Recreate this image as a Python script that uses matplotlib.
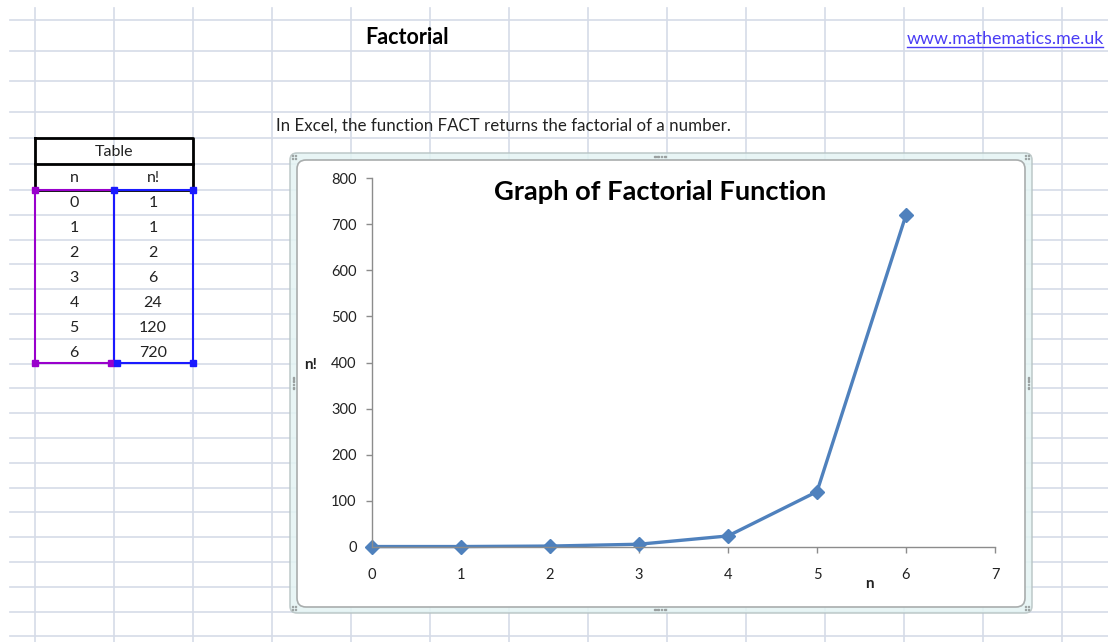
import numpy as np
import matplotlib
matplotlib.use("Agg")
import matplotlib.pyplot as plt
from matplotlib.patches import FancyBboxPatch, Rectangle

plt.rcParams['font.family'] = ['Lato', 'DejaVu Sans']

# data
n_vals = [0, 1, 2, 3, 4, 5, 6]
fact_vals = [1, 1, 2, 6, 24, 120, 720]
y_ticks = [0, 100, 200, 300, 400, 500, 600, 700, 800]
x_ticks = [0, 1, 2, 3, 4, 5, 6, 7]

W, H = 1108, 642
fig = plt.figure(figsize=(W / 100, H / 100), dpi=100)

# sheet background in pixel coords
bg = fig.add_axes([0, 0, 1, 1])
bg.set_xlim(0, W)
bg.set_ylim(H, 0)
bg.axis('off')

grid_c = '#d5dbe8'
col_x = [35 + 79 * k for k in range(14)]
row_y = [19.5, 50.5, 81, 112, 137.5, 164] + [190 + 24.8 * k for k in range(19)]
for x in col_x:
    bg.plot([x, x], [8, H], color=grid_c, lw=1.2, zorder=1)
for y in row_y:
    bg.plot([10, W], [y, y], color=grid_c, lw=1.2, zorder=1)

# sheet text
txt_c = '#222222'
bg.text(407, 37, 'Factorial', ha='center', va='center', fontsize=15.5,
        fontweight='bold', color='black', zorder=3)
bg.text(1005, 39, 'www.mathematics.me.uk', ha='center', va='center',
        fontsize=12.8, color='#4a3cf5', zorder=3)
bg.plot([907, 1103], [47, 47], color='#4a3cf5', lw=1, zorder=3)
bg.text(276, 126, 'In Excel, the function FACT returns the factorial of a number.',
        ha='left', va='center', fontsize=12.2, color=txt_c, zorder=3)

# table
bg.plot([35, 193, 193, 35, 35], [137.5, 137.5, 190, 190, 137.5], color='black', lw=2, zorder=3)
bg.plot([35, 193], [164, 164], color='black', lw=2, zorder=3)
tfs = 11.5
bg.text(114, 152, 'Table', ha='center', va='center', fontsize=tfs, color=txt_c, zorder=3)
bg.text(74, 178, 'n', ha='center', va='center', fontsize=tfs, color=txt_c, zorder=3)
bg.text(153, 178, 'n!', ha='center', va='center', fontsize=tfs, color=txt_c, zorder=3)
bg.plot([35, 114, 114, 35, 35], [190, 190, 363, 363, 190], color='#9900cc', lw=1.5, zorder=4)
bg.plot([114, 193, 193, 114, 114], [190, 190, 363, 363, 190], color='#1a1aff', lw=1.5, zorder=4)
for x, c in [(35, '#9900cc'), (114, '#1a1aff'), (193, '#1a1aff')]:
    bg.add_patch(Rectangle((x - 3, 187), 6, 6, color=c, zorder=5))
for x, c in [(35, '#9900cc'), (111, '#9900cc'), (117, '#1a1aff'), (193, '#1a1aff')]:
    bg.add_patch(Rectangle((x - 3, 360), 6, 6, color=c, zorder=5))
for i, (nv, fv) in enumerate(zip(n_vals, fact_vals)):
    y = 203 + 25 * i
    bg.text(74, y, str(nv), ha='center', va='center', fontsize=tfs, color=txt_c, zorder=3)
    bg.text(153, y, str(fv), ha='center', va='center', fontsize=tfs, color=txt_c, zorder=3)

# chart frame
outer = FancyBboxPatch((290, 153), 742, 460, boxstyle='round,pad=0,rounding_size=7',
                       fc='#e4f4f4', ec='#b8c4c4', lw=1.2, alpha=0.85, zorder=2)
inner = FancyBboxPatch((297, 160), 728, 447, boxstyle='round,pad=0,rounding_size=9',
                       fc='white', ec='#a9adad', lw=1.2, zorder=2.5)
bg.add_patch(outer)
bg.add_patch(inner)
# sizing handles
hc = '#9aa0a0'
for x0, y0, horiz in [(660, 156.5, True), (660, 609.5, True), (293.5, 383, False), (1028.5, 383, False)]:
    for k in range(4):
        if horiz:
            bg.add_patch(Rectangle((x0 - 6 + 3.4 * k, y0 - 0.8), 1.6, 1.6, color=hc, zorder=3))
        else:
            bg.add_patch(Rectangle((x0 - 0.8, y0 - 6 + 3.4 * k), 1.6, 1.6, color=hc, zorder=3))
for cx, cy in [(293, 156), (1026, 156), (293, 607), (1026, 607)]:
    for dx, dy in [(0, 0), (3, 0), (0, 3), (3, 3)]:
        bg.add_patch(Rectangle((cx + dx - 1.5, cy + dy - 1.5), 1.4, 1.4, color=hc, zorder=3))

# chart
ax = fig.add_axes([372 / W, 1 - 547 / H, (995 - 372) / W, (547 - 178) / H])
ax.patch.set_visible(False)
ax.set_zorder(5)
ax.plot(n_vals, fact_vals, color='#4f81bd', lw=2.4, marker='D', markersize=7,
        clip_on=False)
ax.set_xlim(0, 7)
ax.set_ylim(0, 800)
ax.set_xticks(x_ticks)
ax.set_yticks(y_ticks)
for s in ['top', 'right']:
    ax.spines[s].set_visible(False)
for s in ['left', 'bottom']:
    ax.spines[s].set_color('#8c8c8c')
    ax.spines[s].set_linewidth(1)
ax.tick_params(axis='both', colors='#8c8c8c', length=4, width=1, labelsize=10.5,
               labelcolor=txt_c)
ax.tick_params(axis='y', pad=7)
ax.tick_params(axis='x', pad=11)

fig.text(660 / W, 1 - 192 / H, 'Graph of Factorial Function', ha='center', va='center',
         fontsize=19.6, fontweight='bold', color='black')
fig.text(311 / W, 1 - 365 / H, 'n!', ha='center', va='center', fontsize=11,
         fontweight='bold', color=txt_c)
fig.text(869 / W, 1 - 584 / H, 'n', ha='center', va='center', fontsize=11,
         fontweight='bold', color=txt_c)

fig.savefig('out.png', dpi=100)
